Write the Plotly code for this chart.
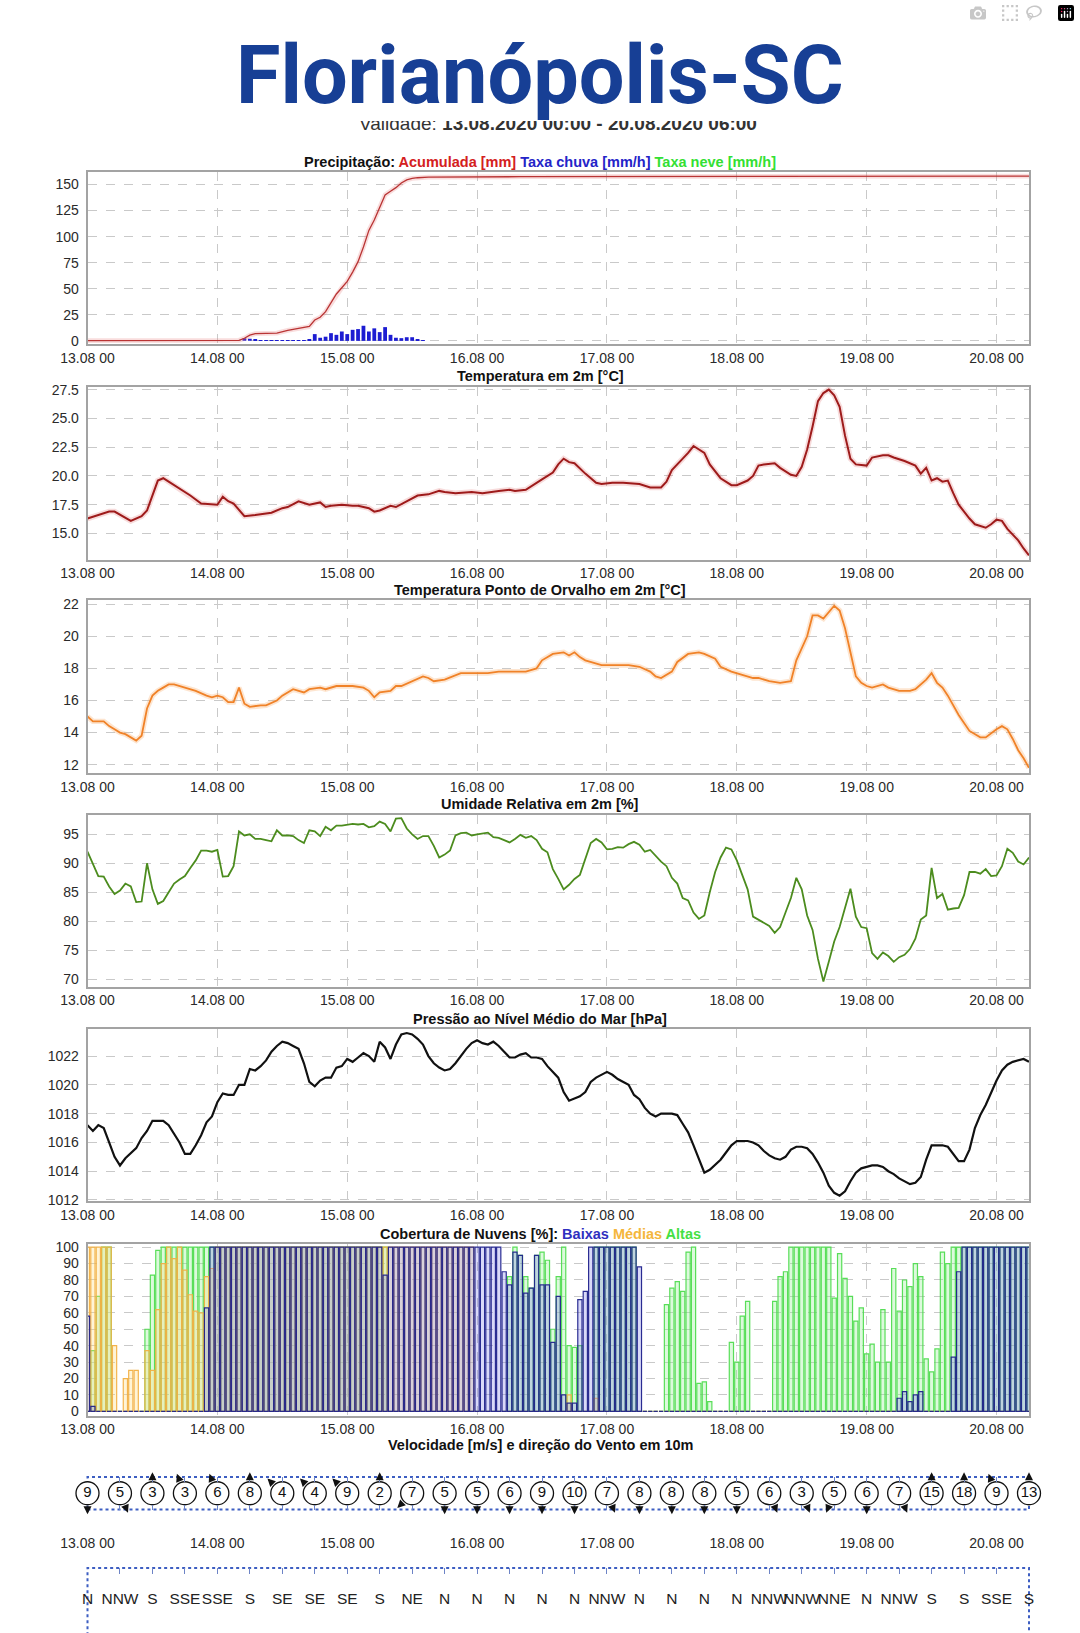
import math
from datetime import datetime, timedelta
import plotly.graph_objects as go

W, H = 1080, 1633
BASE = datetime(2020, 8, 13, 0, 0)
LAST_HOUR = 174

day_labels = ["13.08 00", "14.08 00", "15.08 00", "16.08 00",
              "17.08 00", "18.08 00", "19.08 00", "20.08 00"]

# --- precipitacao (horas desde 13.08 00) ---
acc_h = [0, 28, 29, 30, 31, 35, 37, 39, 41, 42, 43, 44, 45, 46, 47, 48, 49, 50,
         51, 52, 53, 54, 55, 56, 57, 58, 59, 60, 61, 63, 80, 174]
acc_mm = [0.3, 0.5, 2.5, 5.5, 7.0, 7.5, 10.0, 11.6, 13.8, 20.0, 22.6, 28.0, 36.0,
          45.0, 51.0, 57.0, 66.0, 76.0, 90.0, 106.0, 116.0, 128.0, 140.0, 143.5,
          147.0, 151.5, 154.5, 155.8, 156.5, 157.1, 157.5, 158.0]
rain_h = [29, 30, 31, 32, 33, 34, 35, 36, 37, 38, 39, 40, 41, 42, 43, 44, 45, 46,
          47, 48, 49, 50, 51, 52, 53, 54, 55, 56, 57, 58, 59, 60, 61, 62]
rain_mmh = [2.5, 2.0, 1.0, 0.3, 0.2, 0.3, 0.5, 0.5, 0.6, 0.6, 0.8, 0.8, 1.0, 6.5,
            3.0, 4.0, 7.4, 5.8, 9.0, 6.5, 10.6, 11.3, 14.5, 9.0, 12.0, 8.4, 13.2,
            5.8, 3.0, 2.6, 3.5, 3.5, 1.0, 0.5]

# --- temperatura 2m ---
temp_h = [0, 4, 5, 8, 10, 11, 13, 14, 15, 17, 19, 21, 23, 24, 25, 26, 27, 29, 31,
          33, 34, 36, 37, 39, 41, 43, 44, 45, 47, 49, 50, 52, 53, 54, 56, 57, 59,
          61, 63, 65, 66, 68, 71, 73, 76, 78, 79, 81, 84, 86, 87, 88, 89, 90, 92,
          94, 95, 97, 99, 101, 102, 104, 106, 107, 108, 110, 111, 112, 114, 115,
          117, 119, 120, 122, 123, 124, 125, 127, 128, 130, 131, 132, 133, 134,
          135, 136, 137, 138, 139, 140, 141, 142, 144, 145, 147, 148, 149, 151,
          153, 154, 155, 156, 157, 158, 159, 160, 161, 163, 164, 166, 167, 168,
          169, 170, 171, 172, 173, 174]
temp_c = [16.3, 16.9, 16.9, 16.1, 16.5, 17.0, 19.6, 19.8, 19.5, 18.9, 18.3, 17.6,
          17.5, 17.5, 18.2, 17.8, 17.6, 16.5, 16.6, 16.7, 16.8, 17.2, 17.3, 17.8,
          17.5, 17.7, 17.3, 17.4, 17.5, 17.4, 17.4, 17.2, 16.9, 17.0, 17.4, 17.3,
          17.8, 18.3, 18.4, 18.7, 18.6, 18.5, 18.6, 18.5, 18.7, 18.8, 18.7, 18.8,
          19.7, 20.3, 21.0, 21.5, 21.2, 21.1, 20.2, 19.4, 19.3, 19.4, 19.4, 19.3,
          19.3, 19.0, 19.0, 19.5, 20.5, 21.5, 22.0, 22.6, 22.0, 21.0, 19.8, 19.2,
          19.2, 19.6, 20.0, 20.9, 21.0, 21.1, 20.7, 20.1, 20.0, 20.8, 22.3, 24.3,
          26.5, 27.2, 27.5, 27.0, 26.0, 23.5, 21.5, 21.0, 20.9, 21.6, 21.8, 21.8,
          21.6, 21.3, 20.9, 20.2, 20.7, 19.6, 19.8, 19.5, 19.6, 18.5, 17.5, 16.3,
          15.8, 15.5, 15.8, 16.2, 16.1, 15.4, 14.9, 14.4, 13.7, 13.1]

# --- ponto de orvalho 2m ---
dew_h = [0, 1, 3, 4, 5, 6, 7, 9, 10, 11, 12, 13, 14, 15, 16, 18, 20, 22, 23, 24,
         25, 26, 27, 28, 29, 30, 32, 33, 35, 36, 37, 38, 40, 41, 43, 44, 46, 48,
         49, 51, 52, 53, 54, 56, 57, 58, 60, 62, 63, 64, 66, 68, 69, 72, 74, 76,
         79, 81, 83, 84, 86, 88, 89, 90, 91, 92, 95, 97, 100, 102, 104, 105, 106,
         108, 109, 111, 113, 114, 116, 117, 119, 121, 123, 124, 126, 128, 130,
         131, 133, 134, 135, 136, 137, 138, 139, 140, 141, 142, 143, 144, 145,
         147, 148, 150, 152, 153, 155, 156, 157, 158, 159, 161, 162, 163, 165,
         166, 168, 169, 170, 171, 172, 173, 174]
dew_c = [15.0, 14.7, 14.7, 14.4, 14.2, 14.0, 13.9, 13.5, 13.8, 15.5, 16.3, 16.6,
         16.8, 17.0, 17.0, 16.8, 16.6, 16.3, 16.2, 16.3, 16.2, 15.9, 15.9, 16.8,
         15.8, 15.6, 15.7, 15.7, 16.0, 16.3, 16.5, 16.7, 16.5, 16.7, 16.8, 16.7,
         16.9, 16.9, 16.9, 16.8, 16.6, 16.2, 16.5, 16.6, 16.9, 16.9, 17.2, 17.5,
         17.4, 17.2, 17.3, 17.6, 17.7, 17.7, 17.7, 17.8, 17.8, 17.8, 18.0, 18.5,
         18.9, 19.0, 18.8, 19.0, 18.7, 18.5, 18.2, 18.2, 18.2, 18.1, 17.8, 17.5,
         17.4, 17.8, 18.4, 18.9, 19.0, 18.9, 18.6, 18.1, 17.8, 17.6, 17.4, 17.4,
         17.2, 17.1, 17.2, 18.5, 20.0, 21.3, 21.3, 21.1, 21.5, 21.9, 21.6, 20.5,
         19.0, 17.5, 17.1, 16.9, 16.8, 17.0, 16.8, 16.6, 16.6, 16.7, 17.3, 17.7,
         17.1, 16.8, 16.3, 15.1, 14.6, 14.1, 13.7, 13.7, 14.2, 14.4, 14.2, 13.6,
         12.9, 12.4, 11.8]

# --- umidade relativa 2m (horaria) ---
rh_h = list(range(0, 73)) + list(range(74, 125)) + list(range(126, 175))
rh_pct = [92.0, 90.0, 87.8, 87.7, 86.0, 84.7, 85.3, 86.5, 86.0, 83.3, 83.4, 90.0,
          85.5, 83.0, 83.5, 85.0, 86.5, 87.2, 87.8, 89.2, 90.5, 92.2, 92.2, 92.0,
          92.3, 87.7, 87.8, 89.5, 95.5, 94.8, 95.0, 94.2, 94.2, 94.0, 93.8, 95.7,
          94.8, 94.8, 94.7, 94.0, 93.5, 95.7, 95.5, 94.7, 96.3, 95.7, 96.5, 96.5,
          96.7, 96.8, 96.7, 96.8, 96.2, 96.4, 97.2, 96.8, 95.5, 97.7, 97.8, 96.0,
          95.0, 94.2, 94.7, 94.7, 93.0, 91.0, 91.5, 92.2, 94.8, 95.2, 95.3, 94.8,
          95.0,
          95.3, 94.5, 94.4, 94.0, 93.6, 94.2, 94.9, 94.4, 94.7, 94.0, 92.5, 91.9,
          89.0, 87.3, 85.5, 86.3, 87.3, 88.0, 90.6, 93.5, 94.2, 93.6, 92.4, 92.5,
          92.8, 92.7, 93.3, 93.7, 93.2, 92.0, 92.3, 91.3, 90.3, 89.5, 87.5, 86.5,
          84.0, 83.6, 81.5, 80.4, 81.0, 85.0, 88.5, 91.0, 92.7, 92.4, 90.5, 88.0,
          85.5, 80.8, 80.3,
          79.2, 78.0, 79.0, 81.5, 84.0, 87.5, 85.5, 81.0, 78.5, 73.5, 69.6, 73.0,
          76.5, 79.0, 82.5, 85.6, 80.8, 79.0, 78.8, 74.5, 73.5, 74.6, 74.0, 73.0,
          73.8, 74.2, 75.2, 77.0, 80.3, 81.0, 89.2, 84.0, 84.7, 82.0, 82.2, 82.3,
          84.5, 88.5, 88.5, 88.2, 89.0, 87.8, 87.9, 89.5, 92.5, 91.8, 90.3, 89.8,
          91.0]

# --- pressao ao nivel medio do mar ---
pres_h = [0, 1, 2, 3, 4, 5, 6, 7, 9, 10, 11, 12, 13, 14, 15, 16, 17, 18, 19, 20,
          21, 22, 23, 24, 25, 26, 27, 28, 29, 30, 31, 32, 33, 34, 35, 36, 37, 38,
          39, 40, 41, 42, 43, 44, 45, 46, 47, 48, 49, 50, 51, 52, 53, 54, 55, 56,
          57, 58, 59, 60, 61, 62, 63, 64, 65, 66, 67, 68, 69, 70, 71, 72, 73, 74,
          75, 76, 77, 78, 79, 80, 81, 82, 83, 84, 85, 87, 88, 89, 91, 92, 93, 94,
          96, 97, 98, 100, 101, 102, 103, 104, 105, 106, 108, 109, 110, 111, 112,
          113, 114, 115, 117, 118, 119, 120, 122, 123, 124, 125, 126, 127, 128,
          129, 130, 131, 132, 133, 134, 135, 136, 137, 138, 139, 140, 141, 142,
          143, 144, 145, 146, 147, 148, 149, 150, 151, 152, 153, 154, 155, 156,
          157, 158, 159, 160, 161, 162, 163, 164, 165, 166, 167, 168, 169, 170,
          171, 172, 173, 174]
pres_hpa = [1017.2, 1016.8, 1017.2, 1017.0, 1016.0, 1015.0, 1014.4, 1014.9, 1015.6,
            1016.3, 1016.8, 1017.5, 1017.5, 1017.5, 1017.2, 1016.6, 1016.0, 1015.2,
            1015.2, 1015.8, 1016.5, 1017.4, 1017.8, 1018.8, 1019.4, 1019.3, 1019.3,
            1020.0, 1020.0, 1021.1, 1021.0, 1021.3, 1021.7, 1022.3, 1022.7, 1023.0,
            1022.9, 1022.7, 1022.5, 1021.5, 1020.2, 1019.9, 1020.3, 1020.5, 1020.5,
            1021.2, 1021.3, 1021.8, 1021.6, 1021.9, 1022.2, 1022.0, 1021.6, 1023.0,
            1022.6, 1021.8, 1022.8, 1023.5, 1023.6, 1023.5, 1023.2, 1022.8, 1022.0,
            1021.5, 1021.2, 1021.0, 1021.1, 1021.5, 1022.0, 1022.5, 1022.9, 1023.1,
            1022.9, 1022.8, 1023.0, 1022.7, 1022.3, 1021.9, 1021.9, 1022.1, 1022.2,
            1021.9, 1021.9, 1021.8, 1021.3, 1020.5, 1019.5, 1018.9, 1019.2, 1019.5,
            1020.2, 1020.5, 1020.9, 1020.7, 1020.4, 1020.0, 1019.3, 1019.0, 1018.4,
            1018.0, 1017.8, 1018.0, 1018.0, 1017.9, 1017.3, 1016.7, 1015.8, 1014.8,
            1013.9, 1014.1, 1014.8, 1015.3, 1015.8, 1016.1, 1016.1, 1016.0, 1015.8,
            1015.4, 1015.1, 1014.9, 1014.8, 1015.0, 1015.5, 1015.7, 1015.7, 1015.6,
            1015.2, 1014.6, 1013.9, 1013.0, 1012.5, 1012.3, 1012.6, 1013.3, 1013.9,
            1014.2, 1014.3, 1014.4, 1014.4, 1014.3, 1014.0, 1013.8, 1013.5, 1013.3,
            1013.1, 1013.2, 1013.6, 1014.8, 1015.8, 1015.8, 1015.8, 1015.7, 1015.2,
            1014.7, 1014.7, 1015.5, 1017.0, 1017.9, 1018.6, 1019.5, 1020.3, 1021.0,
            1021.4, 1021.6, 1021.7, 1021.8, 1021.6]

# --- cobertura de nuvens [%], uma barra por hora (h0..h174) ---
cloud_low = [
    58, 3, 0, 0, 0, 0, 0, 0, 0, 0, 0, 0, 0, 0, 0, 0, 0, 0, 0, 0, 0, 0, 63, 100,
    100, 100, 100, 100, 100, 100, 100, 100, 100, 100, 100, 100, 100, 100, 100, 100, 100, 100, 100, 100, 100, 100, 100, 100,
    100, 100, 100, 100, 100, 100, 100, 83, 100, 100, 100, 100, 100, 100, 100, 100, 100, 100, 100, 100, 100, 100, 100, 100,
    100, 100, 100, 100, 100, 85, 77, 97, 95, 72, 75, 95, 77, 77, 42, 70, 10, 5, 5, 68, 73, 100, 100, 100,
    100, 100, 100, 100, 100, 100, 88, 0, 0, 0, 0, 0, 0, 0, 0, 0, 0, 0, 0, 0, 0, 0, 0, 0,
    0, 0, 0, 0, 0, 0, 0, 0, 0, 0, 0, 0, 0, 0, 0, 0, 0, 0, 0, 0, 0, 0, 0, 0,
    0, 0, 0, 0, 0, 0, 8, 12, 6, 10, 12, 0, 0, 0, 0, 0, 33, 85, 100, 100, 100, 100, 100, 100,
    100, 100, 100, 100, 100, 100, 100]
cloud_mid = [
    100, 100, 100, 100, 100, 40, 0, 20, 25, 25, 0, 37, 25, 62, 90, 100, 93, 100, 86, 71, 61, 60, 82, 87,
    100, 100, 100, 100, 100, 100, 100, 100, 100, 100, 100, 100, 100, 100, 100, 100, 100, 100, 100, 100, 100, 100, 100, 100,
    100, 100, 100, 100, 100, 100, 100, 100, 100, 100, 100, 100, 100, 100, 100, 100, 100, 100, 100, 100, 100, 100, 100, 100,
    0, 0, 0, 0, 0, 0, 0, 0, 0, 0, 0, 0, 0, 0, 0, 0, 0, 10, 0, 0, 0, 0, 8, 0,
    0, 0, 0, 0, 0, 0, 0, 0, 0, 0, 0, 0, 0, 0, 0, 0, 0, 0, 0, 0, 0, 0, 0, 0,
    0, 0, 0, 0, 0, 0, 0, 0, 0, 0, 0, 0, 0, 0, 0, 0, 0, 0, 0, 0, 0, 0, 0, 0,
    0, 0, 0, 0, 0, 0, 0, 0, 0, 0, 0, 0, 0, 0, 0, 0, 0, 0, 0, 0, 0, 0, 0, 0,
    0, 0, 0, 0, 0, 0, 0]
cloud_high = [
    0, 37, 70, 100, 100, 0, 0, 0, 0, 0, 0, 50, 83, 98, 100, 100, 100, 100, 100, 100, 100, 100, 100, 100,
    100, 100, 100, 100, 100, 100, 100, 100, 100, 100, 100, 100, 100, 100, 100, 100, 100, 100, 100, 100, 100, 100, 100, 100,
    100, 100, 100, 100, 100, 100, 100, 100, 0, 0, 0, 0, 0, 0, 0, 0, 0, 0, 0, 0, 0, 0, 0, 0,
    0, 0, 0, 0, 0, 0, 82, 100, 95, 82, 75, 95, 97, 92, 50, 82, 100, 40, 39, 40, 0, 0, 100, 100,
    100, 100, 100, 100, 100, 100, 0, 0, 0, 0, 0, 65, 75, 79, 73, 97, 100, 17, 18, 6, 0, 0, 0, 42,
    30, 58, 67, 0, 0, 0, 0, 67, 82, 85, 100, 100, 100, 100, 100, 100, 100, 100, 69, 96, 81, 70, 55, 63,
    35, 41, 30, 62, 30, 87, 61, 80, 76, 90, 82, 32, 24, 38, 97, 90, 100, 100, 100, 100, 100, 100, 100, 100,
    100, 100, 100, 100, 100, 100, 100]

# --- vento 10m, a cada 6 h ---
wind_speed = [9, 5, 3, 3, 6, 8, 4, 4, 9, 2, 7, 5, 5, 6, 9, 10, 7, 8, 8, 8, 5, 6,
              3, 5, 6, 7, 15, 18, 9, 13]
wind_dir = ["N", "NNW", "S", "SSE", "SSE", "S", "SE", "SE", "SE", "S", "NE", "N",
            "N", "N", "N", "N", "NNW", "N", "N", "N", "N", "NNW", "NNW", "NNE",
            "N", "NNW", "S", "S", "SSE", "S"]
compass = {"N": 0, "NNE": 22.5, "NE": 45, "SE": 135, "SSE": 157.5, "S": 180,
           "NNW": 337.5}


def when(hours):
    return [BASE + timedelta(hours=h) for h in hours]


def fx(p):
    return p / W


def fy(p):
    return 1 - p / H


days = [BASE + timedelta(days=d) for d in range(8)]
x_range = [BASE, BASE + timedelta(hours=LAST_HOUR)]
GRID = "#c9c9c9"
FRAME = "#a3a3a3"
LEFT, RIGHT, MID = 87.5, 1029, 540
TICKFONT = dict(family="Liberation Sans, Arial, sans-serif", size=14, color="#2a2a2a")
TITLEFONT = dict(family="Liberation Sans, Arial, sans-serif", size=14.5, color="#111")
HOUR_MS = 3600 * 1000

panels = [
    dict(top=172, bottom=344, yr=[-3, 162], yt=[0, 25, 50, 75, 100, 125, 150], fmt="",
         title="<b>Precipitação: <span style='color:#d42020'>Acumulada [mm]</span> "
               "<span style='color:#2424c8'>Taxa chuva [mm/h]</span> "
               "<span style='color:#33e033'>Taxa neve [mm/h]</span></b>"),
    dict(top=386.5, bottom=559.5, yr=[12.74, 27.77], yt=[15, 17.5, 20, 22.5, 25, 27.5],
         fmt=".1f", title="<b>Temperatura em 2m [°C]</b>"),
    dict(top=600, bottom=773, yr=[11.48, 22.26], yt=[12, 14, 16, 18, 20, 22], fmt="",
         title="<b>Temperatura Ponto de Orvalho em 2m [°C]</b>"),
    dict(top=814.5, bottom=986.5, yr=[68.74, 98.42], yt=[70, 75, 80, 85, 90, 95], fmt="",
         title="<b>Umidade Relativa em 2m [%]</b>"),
    dict(top=1029, bottom=1201, yr=[1011.93, 1023.88], yt=[1012, 1014, 1016, 1018, 1020, 1022],
         fmt="", title="<b>Pressão ao Nível Médio do Mar [hPa]</b>"),
    dict(top=1244, bottom=1415.5, yr=[-2.5, 101.9], yt=list(range(0, 101, 10)), fmt="",
         title="<b>Cobertura de Nuvens [%]: <span style='color:#2f2fc0'>Baixas</span> "
               "<span style='color:#f4b63c'>Médias</span> "
               "<span style='color:#44e044'>Altas</span></b>"),
]

fig = go.Figure()
layout = {}
annotations = []

for i, p in enumerate(panels, start=1):
    s = "" if i == 1 else str(i)
    layout["xaxis" + s] = dict(
        domain=[fx(LEFT), fx(RIGHT)], anchor="y" + s, type="date", range=x_range,
        tickmode="array", tickvals=days, ticktext=day_labels, ticks="",
        showgrid=True, gridcolor=GRID, griddash="dash", gridwidth=1,
        showline=True, mirror=True, linecolor=FRAME, linewidth=1.6,
        zeroline=False, tickfont=TICKFONT, fixedrange=True)
    layout["yaxis" + s] = dict(
        domain=[fy(p["bottom"]), fy(p["top"])], anchor="x" + s, range=p["yr"],
        tickmode="array", tickvals=p["yt"], tickformat=p["fmt"], ticks="",
        ticklabelstandoff=4,
        showgrid=True, gridcolor=GRID, griddash="dash", gridwidth=1,
        showline=True, mirror=True, linecolor=FRAME, linewidth=1.6,
        zeroline=False, tickfont=TICKFONT, fixedrange=True)
    annotations.append(dict(x=fx(MID), y=fy(p["top"] - 10.5), xref="paper", yref="paper",
                            text=p["title"], showarrow=False, font=TITLEFONT,
                            xanchor="center", yanchor="middle"))


def line_with_glow(xs, ys, color, glow, width, ax):
    # linha fina com um leve halo por baixo, como no grafico original
    fig.add_trace(go.Scatter(x=xs, y=ys, mode="lines", line=dict(color=glow, width=width + 3.5),
                             hoverinfo="skip", xaxis="x" + ax, yaxis="y" + ax))
    fig.add_trace(go.Scatter(x=xs, y=ys, mode="lines", line=dict(color=color, width=width),
                             xaxis="x" + ax, yaxis="y" + ax))


# precipitacao
fig.add_trace(go.Bar(x=when(rain_h), y=rain_mmh, width=0.7 * HOUR_MS,
                     marker=dict(color="#1c1cd2", line=dict(width=0)),
                     xaxis="x", yaxis="y"))
line_with_glow(when(acc_h), acc_mm, "#b93434", "rgba(230,120,120,0.25)", 1.3, "")

# linhas
line_with_glow(when(temp_h), temp_c, "#9e1b1b", "rgba(225,110,110,0.25)", 2, "2")
line_with_glow(when(dew_h), dew_c, "#f08228", "rgba(250,170,100,0.30)", 1.8, "3")
fig.add_trace(go.Scatter(x=when(rh_h), y=rh_pct, mode="lines",
                         line=dict(color="#4c8c1e", width=1.8), xaxis="x4", yaxis="y4"))
fig.add_trace(go.Scatter(x=when(pres_h), y=pres_hpa, mode="lines",
                         line=dict(color="#111111", width=2.2), xaxis="x5", yaxis="y5"))

# nuvens: altas, medias, baixas sobrepostas
cloud_x = when(range(LAST_HOUR + 1))
for vals, fill, edge in [
        (cloud_high, "rgba(140,240,140,0.30)", "rgba(80,220,80,0.95)"),
        (cloud_mid, "rgba(255,220,120,0.30)", "rgba(242,176,68,0.95)"),
        (cloud_low, "rgba(120,120,230,0.28)", "rgba(32,34,140,0.95)")]:
    fig.add_trace(go.Bar(x=cloud_x, y=vals, width=0.78 * HOUR_MS,
                         marker=dict(color=fill, line=dict(color=edge, width=1.2)),
                         xaxis="x6", yaxis="y6"))

# vento
wind_h = list(range(0, LAST_HOUR + 1, 6))
layout["xaxis7"] = dict(domain=[fx(LEFT), fx(RIGHT)], anchor="y7", type="date", range=x_range,
                        tickmode="linear", tick0=BASE, dtick=6 * HOUR_MS, ticks="inside",
                        ticklen=5, tickcolor="#6d84c6", tickwidth=1.2, showticklabels=False,
                        showgrid=False, showline=True, linecolor="rgba(0,0,0,0)",
                        mirror="ticks", zeroline=False, fixedrange=True)
layout["yaxis7"] = dict(domain=[fy(1509.5), fy(1477)], anchor="x7", range=[-1, 1],
                        visible=False, fixedrange=True)
layout["xaxis8"] = dict(domain=[fx(LEFT), fx(RIGHT)], anchor="y8", type="date", range=x_range,
                        side="top", tickmode="array", tickvals=days, ticktext=day_labels,
                        ticks="inside", ticklen=6, tickcolor="#6d84c6",
                        minor=dict(tickmode="linear", tick0=BASE, dtick=6 * HOUR_MS,
                                   ticks="inside", ticklen=6, tickcolor="#6d84c6",
                                   showgrid=False),
                        ticklabelstandoff=16, showgrid=False, showline=False,
                        zeroline=False, tickfont=TICKFONT, fixedrange=True)
layout["yaxis8"] = dict(domain=[fy(1632), fy(1568)], anchor="x8", range=[-1, 1],
                        visible=False, fixedrange=True)

fig.add_trace(go.Scatter(x=when(wind_h), y=[0] * len(wind_h), mode="markers+text",
                         text=[str(v) for v in wind_speed], textposition="middle center",
                         textfont=dict(family="Liberation Sans, Arial", size=15, color="#111"),
                         marker=dict(symbol="circle", size=23, color="white",
                                     line=dict(color="#111", width=1.3)),
                         cliponaxis=False, xaxis="x7", yaxis="y7"))
fig.add_trace(go.Scatter(x=when(wind_h), y=[0] * len(wind_h), mode="text", text=wind_dir,
                         textposition="middle center",
                         textfont=dict(family="Liberation Sans, Arial", size=15.5, color="#222"),
                         cliponaxis=False, xaxis="x8", yaxis="y8"))

for h, d in zip(wind_h, wind_dir):
    flow = math.radians(compass[d] + 180)
    sx, sy = math.sin(flow), math.cos(flow)
    annotations.append(dict(x=BASE + timedelta(hours=h), y=0, xref="x7", yref="y7", text="",
                            showarrow=True, arrowhead=2, arrowsize=1, arrowwidth=1.6,
                            arrowcolor="#111", xshift=21 * sx, yshift=21 * sy,
                            ax=-9 * sx, ay=9 * sy))

annotations.append(dict(x=fx(MID), y=fy(1445), xref="paper", yref="paper",
                        text="<b>Velocidade [m/s] e direção do Vento em 10m</b>",
                        showarrow=False, font=TITLEFONT, xanchor="center", yanchor="middle"))

shapes = [
    dict(type="rect", xref="x7 domain", yref="y7 domain", x0=0, x1=1, y0=0, y1=1,
         line=dict(color="#3d5ec2", width=2, dash="dot"), layer="below"),
    dict(type="rect", xref="x8 domain", yref="paper", x0=0, x1=1, y0=-0.05, y1=fy(1568),
         line=dict(color="#3d5ec2", width=2, dash="dot"), layer="below"),
]

# cabecalho: validade com a metade de cima escondida sob o titulo
annotations.append(dict(x=fx(558), y=fy(123), xref="paper", yref="paper",
                        text="Validade: <b>13.08.2020 00:00 - 20.08.2020 06:00</b>",
                        showarrow=False, xanchor="center", yanchor="middle",
                        font=dict(family="Liberation Sans, Arial", size=19, color="#333")))
annotations.append(dict(x=fx(558), y=fy(111), xref="paper", yref="paper", text=" ",
                        showarrow=False, width=480, height=20, bgcolor="white",
                        borderpad=0, borderwidth=0, xanchor="center", yanchor="middle"))
annotations.append(dict(x=fx(MID), y=fy(75), xref="paper", yref="paper",
                        text="<b>Florianópolis-SC</b>", showarrow=False,
                        xanchor="center", yanchor="middle",
                        font=dict(family="Roboto, Arial", size=81, color="#173f95")))

fig.update_layout(width=W, height=H,
                  margin=dict(l=0, r=0, t=0, b=0, autoexpand=False),
                  paper_bgcolor="white", plot_bgcolor="white", showlegend=False,
                  barmode="overlay", annotations=annotations, shapes=shapes, **layout)

fig.write_html("out.html", post_script="document.body.style.margin='0px';")
